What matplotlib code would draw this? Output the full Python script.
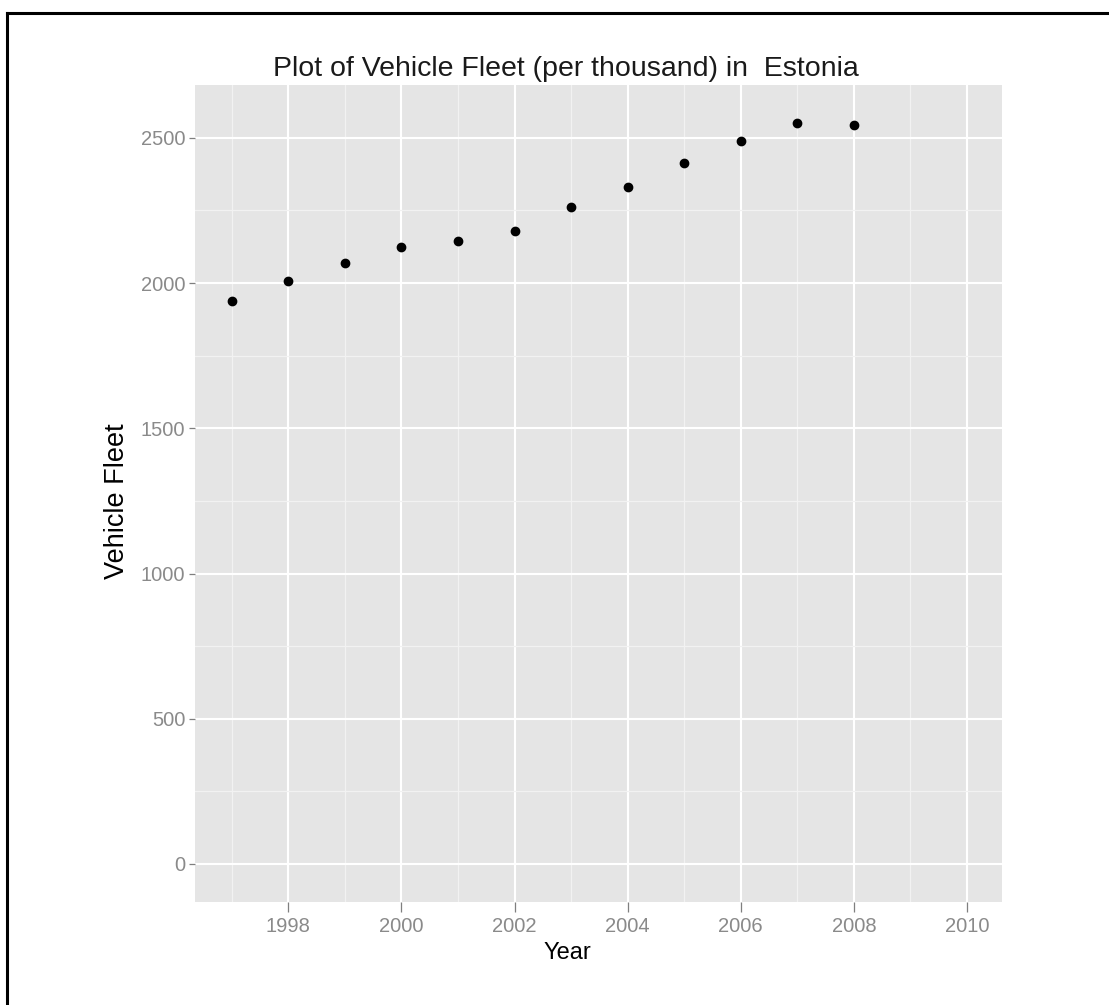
import matplotlib
matplotlib.use("Agg")
import matplotlib.pyplot as plt
from matplotlib.lines import Line2D
from matplotlib.ticker import MultipleLocator

years = [1997, 1998, 1999, 2000, 2001, 2002, 2003, 2004, 2005, 2006, 2007, 2008]
fleet = [1939, 2008, 2070, 2125, 2145, 2180, 2263, 2331, 2414, 2490, 2552, 2545]
x_ticks = [1998, 2000, 2002, 2004, 2006, 2008, 2010]
y_ticks = [0, 500, 1000, 1500, 2000, 2500]

plt.rcParams['font.family'] = ['Liberation Sans', 'DejaVu Sans']

W, H = 1109, 1005
fig = plt.figure(figsize=(W / 100, H / 100), dpi=100)
fig.patch.set_facecolor('white')

ax = fig.add_axes([195 / W, 1 - 902 / H, (1002 - 195) / W, (902 - 85) / H])
ax.set_facecolor('#E5E5E5')
for s in ax.spines.values():
    s.set_visible(False)

ax.set_xlim(1996.35, 2010.62)
ax.set_ylim(-131, 2682)
ax.set_xticks(x_ticks)
ax.set_yticks(y_ticks)
ax.xaxis.set_minor_locator(MultipleLocator(1))
ax.yaxis.set_minor_locator(MultipleLocator(250))
ax.grid(which='minor', color='#F2F2F2', linewidth=0.9)
ax.grid(which='major', color='white', linewidth=1.5)
ax.set_axisbelow(True)
ax.tick_params(which='minor', length=0)
ax.tick_params(axis='x', which='major', length=7, width=0.9, color='#7F7F7F',
               labelcolor='#8A8A8A', labelsize=14.5, pad=4)
ax.tick_params(axis='y', which='major', length=4, width=0.9, color='#7F7F7F',
               labelcolor='#8A8A8A', labelsize=14.5, pad=3)

ax.plot(years, fleet, 'o', color='black', markersize=6, linestyle='none')

fig.text(566 / W, 1 - 69 / H, 'Plot of Vehicle Fleet (per thousand) in  Estonia',
         ha='center', va='center', fontsize=20.5, color='#1a1a1a')
fig.text(567 / W, 1 - 953 / H, 'Year', ha='center', va='center', fontsize=17, color='black')
fig.text(117 / W, 1 - 501 / H, 'Vehicle Fleet', ha='center', va='center', fontsize=19.5,
         rotation=90, color='black')

# partial frame (top and left edges)
fig.add_artist(Line2D([7 / W, 1], [1 - 13 / H, 1 - 13 / H], color='black', linewidth=2.2,
                      transform=fig.transFigure))
fig.add_artist(Line2D([7 / W, 7 / W], [0, 1 - 13 / H], color='black', linewidth=2.2,
                      transform=fig.transFigure))

fig.savefig('out.png', dpi=100)
